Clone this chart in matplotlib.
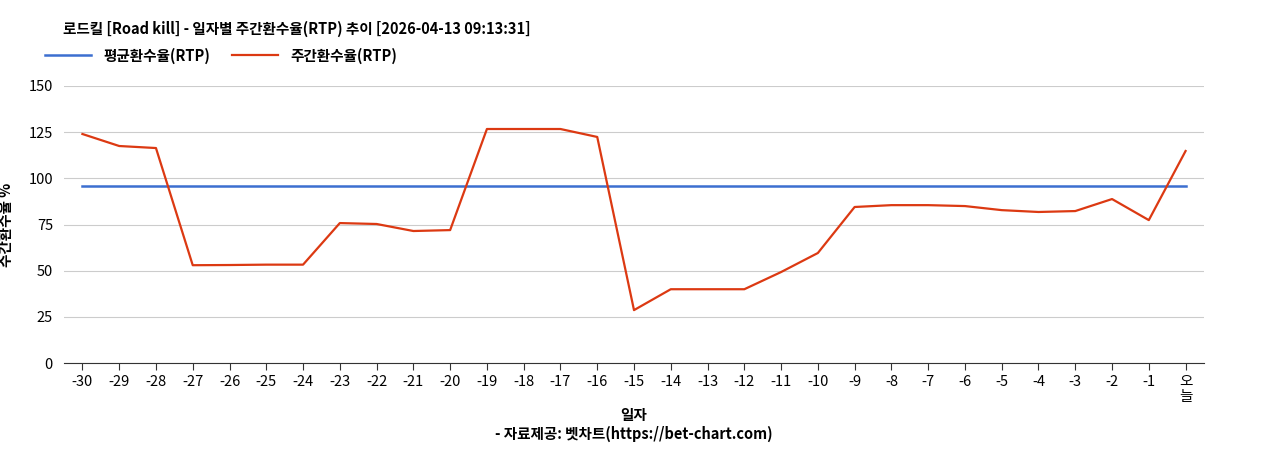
import matplotlib
matplotlib.use("Agg")
import matplotlib.pyplot as plt

plt.rcParams['font.family'] = ['Noto Sans CJK KR', 'DejaVu Sans']

# Data
days = [str(d) for d in range(-30, 0)] + ["오\n늘"]
weekly_rtp = [124, 117.5, 116.4, 53, 53.1, 53.3, 53.3, 75.8, 75.3, 71.5, 72,
              126.7, 126.7, 126.7, 122.4, 28.7, 40, 40, 40, 49.3, 59.6,
              84.5, 85.5, 85.5, 85, 82.8, 81.8, 82.3, 88.8, 77.4, 114.8]
avg_rtp = 95.8

fig = plt.figure(figsize=(12.68, 4.5), dpi=100)
ax = fig.add_axes([0.0505, 0.193, 0.899, 0.616])

x = list(range(len(days)))
ax.plot(x, [avg_rtp] * len(x), color="#3c6fd0", lw=1.8, label="평균환수율(RTP)")
ax.plot(x, weekly_rtp, color="#dc3912", lw=1.6, label="주간환수율(RTP)")

ax.set_xlim(-0.5, len(x) - 0.5)
ax.set_ylim(0, 150)
ax.set_yticks([0, 25, 50, 75, 100, 125, 150])
ax.set_xticks(x)
ax.set_xticklabels(days, fontsize=10.5, linespacing=1.1)
ax.tick_params(axis="y", length=0, labelsize=10.5, pad=8)
ax.tick_params(axis="x", length=5, color="#333333")
ax.grid(axis="y", color="#cccccc", lw=0.8)
ax.set_axisbelow(True)
for s in ["top", "right", "left"]:
    ax.spines[s].set_visible(False)
ax.spines["bottom"].set_color("#333333")

ax.set_ylabel("주간환수율 %", fontsize=10.5, fontweight="bold", labelpad=10)
ax.set_xlabel("일자", fontsize=10.5, fontweight="bold", labelpad=2)
fig.text(0.5, 0.025, "- 자료제공: 벳차트(https://bet-chart.com)", ha="center",
         fontsize=10.5, fontweight="bold")

fig.text(0.05, 0.925, "로드킬 [Road kill] - 일자별 주간환수율(RTP) 추이 [2026-04-13 09:13:31]",
         fontsize=10.5, fontweight="bold")
ax.legend(loc="center left", bbox_to_anchor=(-0.017, 1.11), ncol=2, frameon=False,
          prop={"weight": "bold", "size": 10.5}, handlelength=3.2,
          columnspacing=1.5, borderaxespad=0, borderpad=0)

fig.savefig("out.png", dpi=100)
